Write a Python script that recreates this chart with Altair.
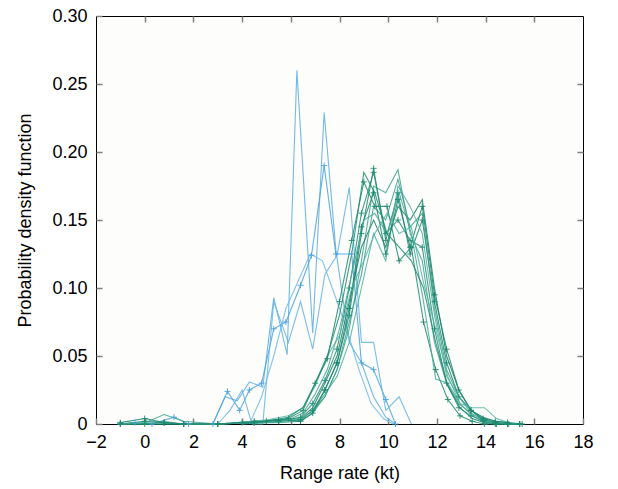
import altair as alt
import pandas as pd

# ---- tick values ----
x_ticks = [-2, 0, 2, 4, 6, 8, 10, 12, 14, 16, 18]
y_ticks = [0, 0.05, 0.10, 0.15, 0.20, 0.25, 0.30]

# ---- blue series ----
b1_x = [2.8, 3.3, 3.8, 4.3, 4.85, 5.3, 5.85, 6.25, 6.9, 7.37, 7.85, 8.4, 8.9, 9.4, 9.9, 10.3]
b1_y = [0, 0.02, 0.017, 0.031, 0.027, 0.093, 0.051, 0.26, 0.067, 0.229, 0.128, 0.06, 0.045, 0.02, 0.005, 0]
b2_x = [-1.0, -0.4, 0.3, 1.2, 1.8, 2.8, 3.4, 3.9, 4.3, 4.8, 5.3, 5.8, 6.4, 6.85, 7.37, 7.85, 8.5, 8.9, 9.4, 9.9, 10.3]
b2_y = [0, 0.001, 0.0, 0.005, 0, 0, 0.024, 0.01, 0.025, 0.03, 0.07, 0.075, 0.102, 0.124, 0.19, 0.125, 0.125, 0.045, 0.04, 0.018, 0]
b3_x = [3.0, 3.5, 4.0, 4.4, 4.85, 5.3, 5.9, 6.4, 6.9, 7.4, 7.9, 8.4, 8.9, 9.4, 9.9, 10.45, 10.95]
b3_y = [0, 0.01, 0.025, 0.0, 0.0, 0.09, 0.06, 0.09, 0.055, 0.11, 0.124, 0.174, 0.06, 0.06, 0.01, 0.02, 0]
b4_x = [4.3, 4.8, 5.3, 5.8, 6.3, 6.8, 7.3, 7.8, 8.3, 8.8, 9.3, 9.8, 10.2]
b4_y = [0, 0.02, 0.05, 0.085, 0.105, 0.125, 0.12, 0.095, 0.07, 0.04, 0.015, 0.004, 0]

# ---- green series ----
ga_x = [-1.0, 0.0, 0.8, 1.6, 3.0, 4.5, 5.5, 6.4, 6.9, 7.4, 7.9, 8.4, 8.9, 9.4, 9.9, 10.4, 10.9, 11.4, 11.9, 12.4, 12.9, 13.4, 13.9, 14.4, 14.9, 15.4]
gb_x = [4.0, 5.0, 5.9, 6.5, 7.0, 7.5, 8.0, 8.5, 9.0, 9.45, 9.95, 10.45, 10.95, 11.45, 11.95, 12.45, 12.95, 13.45, 13.95, 14.45, 14.95, 15.5]

g1_y = [0, 0.002, 0.001, 0, 0, 0.001, 0.002, 0.003, 0.01, 0.025, 0.045, 0.08, 0.14, 0.188, 0.135, 0.17, 0.125, 0.15, 0.09, 0.045, 0.02, 0.01, 0.004, 0.002, 0.001, 0]
g2_y = [0, 0.001, 0.007, 0.002, 0, 0.001, 0.001, 0.002, 0.008, 0.02, 0.04, 0.07, 0.12, 0.175, 0.17, 0.187, 0.14, 0.12, 0.06, 0.03, 0.015, 0.008, 0.003, 0.001, 0, 0]
g3_y = [0, 0, 0, 0, 0, 0.002, 0.003, 0.004, 0.012, 0.03, 0.05, 0.09, 0.13, 0.15, 0.13, 0.16, 0.15, 0.165, 0.1, 0.05, 0.025, 0.01, 0.005, 0.002, 0.001, 0]
g4_y = [0, 0.001, 0.002, 0, 0, 0.001, 0.002, 0.003, 0.01, 0.022, 0.035, 0.06, 0.1, 0.14, 0.12, 0.175, 0.16, 0.14, 0.08, 0.035, 0.02, 0.008, 0.003, 0.001, 0, 0]
g5_y = [0, 0, 0.001, 0, 0, 0.001, 0.002, 0.005, 0.015, 0.032, 0.055, 0.1, 0.155, 0.185, 0.14, 0.15, 0.135, 0.13, 0.07, 0.03, 0.012, 0.006, 0.002, 0, 0, 0]
g6_y = [0, 0, 0, 0, 0, 0.001, 0.002, 0.003, 0.01, 0.02, 0.04, 0.075, 0.11, 0.16, 0.15, 0.18, 0.145, 0.155, 0.085, 0.04, 0.02, 0.01, 0.004, 0.001, 0, 0]
g7_y = [0.001, 0.004, 0.001, 0, 0, 0.002, 0.003, 0.002, 0.008, 0.025, 0.045, 0.085, 0.145, 0.17, 0.125, 0.165, 0.13, 0.16, 0.095, 0.055, 0.025, 0.01, 0.003, 0.001, 0, 0]

g8_y = [0.001, 0.003, 0.006, 0.012, 0.028, 0.05, 0.065, 0.1, 0.12, 0.14, 0.155, 0.14, 0.145, 0.104, 0.07, 0.035, 0.015, 0.012, 0.012, 0.004, 0.001, 0]
g9_y = [0.001, 0.002, 0.004, 0.01, 0.03, 0.048, 0.09, 0.135, 0.178, 0.16, 0.16, 0.12, 0.13, 0.075, 0.04, 0.018, 0.006, 0.002, 0, 0, 0, 0]
g10_y = [0, 0.001, 0.003, 0.008, 0.022, 0.04, 0.07, 0.11, 0.15, 0.155, 0.14, 0.17, 0.14, 0.09, 0.033, 0.03, 0.015, 0.006, 0.002, 0.001, 0, 0]
g11_y = [0, 0.002, 0.005, 0.012, 0.03, 0.05, 0.08, 0.125, 0.185, 0.17, 0.14, 0.13, 0.12, 0.1, 0.06, 0.028, 0.012, 0.004, 0.001, 0, 0, 0]

BLUE = "#5aaee3"
series = [
    ("b1", b1_x, b1_y, BLUE, False),
    ("b2", b2_x, b2_y, "#4aa3df", True),
    ("b3", b3_x, b3_y, "#63b3e6", False),
    ("b4", b4_x, b4_y, "#6bb8ea", False),
    ("g1", ga_x, g1_y, "#1f8c72", True),
    ("g2", ga_x, g2_y, "#3ea58e", False),
    ("g3", ga_x, g3_y, "#178067", False),
    ("g4", ga_x, g4_y, "#4fb0a0", False),
    ("g5", ga_x, g5_y, "#248f76", True),
    ("g6", ga_x, g6_y, "#3a9f8a", False),
    ("g7", ga_x, g7_y, "#1a866c", True),
    ("g8", gb_x, g8_y, "#55b5a8", False),
    ("g9", gb_x, g9_y, "#208a70", True),
    ("g10", gb_x, g10_y, "#44a896", False),
    ("g11", gb_x, g11_y, "#1d8b6f", False),
]

rows = []
for name, xs, ys, col, mk in series:
    for i, (xv, yv) in enumerate(zip(xs, ys)):
        rows.append({"series": name, "idx": i, "x": xv, "y": yv, "marker": mk})
df = pd.DataFrame(rows)

names = [s[0] for s in series]
colors = [s[3] for s in series]

FONT = "Liberation Sans"
xscale = alt.Scale(domain=[-2, 18], nice=False, zero=False)
yscale = alt.Scale(domain=[0, 0.30], nice=False, zero=False)
cscale = alt.Scale(domain=names, range=colors)

common_axis = dict(domain=False, grid=False, tickSize=6, offset=-6, tickColor="#808080",
                   tickWidth=1.5, labelFlush=False, labelFont=FONT, labelFontSize=18,
                   labelColor="black", titleFont=FONT, titleFontSize=18,
                   titleFontWeight="normal", titleColor="black")

base = alt.Chart(df)

lines = base.mark_line(strokeWidth=1.1, opacity=0.85).encode(
    x=alt.X("x:Q", scale=xscale,
            axis=alt.Axis(values=x_ticks, title="Range rate (kt)", labelPadding=9,
                          titlePadding=13, **common_axis)),
    y=alt.Y("y:Q", scale=yscale,
            axis=alt.Axis(values=y_ticks, title="Probability density function",
                          labelPadding=9, titlePadding=17,
                          labelExpr="datum.value == 0 ? '0' : format(datum.value, '.2f')",
                          **common_axis)),
    color=alt.Color("series:N", scale=cscale, legend=None),
    detail="series:N",
    order="idx:Q",
)

markers = base.mark_point(shape="M-1,0L1,0M0,-1L0,1", size=36, filled=False,
                          strokeWidth=1, opacity=0.9).encode(
    x=alt.X("x:Q", scale=xscale,
            axis=alt.Axis(orient="top", values=x_ticks[1:-1], labels=False, title="",
                          **common_axis)),
    y=alt.Y("y:Q", scale=yscale,
            axis=alt.Axis(orient="right", values=y_ticks[1:-1], labels=False, title="",
                          **common_axis)),
    color=alt.Color("series:N", scale=cscale, legend=None),
).transform_filter("datum.marker")

chart = alt.layer(lines, markers).resolve_axis(x="independent", y="independent").properties(
    width=487, height=408,
    padding={"left": 96, "top": 16, "right": 35, "bottom": 65},
    autosize=alt.AutoSizeParams(type="none"),
    background="white",
).configure_view(stroke="black", strokeWidth=1, fill="#fdfdfb")

chart.save("out.html", embed_options={"renderer": "svg", "actions": False})
